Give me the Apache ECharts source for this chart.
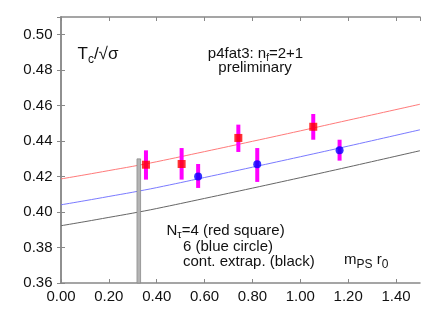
<!DOCTYPE html>
<html><head><meta charset="utf-8">
<script src="https://cdn.jsdelivr.net/npm/echarts@6/dist/echarts.min.js"></script>
<style>html,body{margin:0;padding:0;background:#fff}#c{width:447px;height:313px}</style>
</head><body><div id="c"></div>
<script>
// ---- data ----
const curveX = [0, 0.1, 0.2, 0.3, 0.4, 0.6, 0.8, 1.0, 1.2, 1.5];
const redCurve = [0.4187, 0.4210, 0.4234, 0.4258, 0.4284, 0.4341, 0.4399, 0.4458, 0.4518, 0.4608];
const blueCurve = [0.4041, 0.4064, 0.4088, 0.4112, 0.4138, 0.4195, 0.4253, 0.4312, 0.4372, 0.4464];
const blackCurve = [0.3923, 0.3946, 0.3970, 0.3994, 0.4020, 0.4077, 0.4135, 0.4194, 0.4254, 0.4346];

const redX = [0.355, 0.504, 0.741, 1.054];
const redY = [0.4267, 0.4271, 0.4418, 0.4481];
const redLo = [0.4183, 0.4183, 0.4339, 0.4408];
const redHi = [0.4348, 0.4361, 0.4493, 0.4553];

const blueX = [0.573, 0.820, 1.164];
const blueY = [0.4201, 0.4269, 0.4348];
const blueLo = [0.4136, 0.4170, 0.4290];
const blueHi = [0.4271, 0.4361, 0.4408];

const physX = [0.325];
const physTop = [0.43];

const xTicks = { min: 0, max: 1.5, interval: 0.2 };
const yTicks = { min: 0.36, max: 0.51, interval: 0.02 };

// ---- chart ----
const FONT = '"Liberation Sans", Arial, Helvetica, sans-serif';
const chart = echarts.init(document.getElementById('c'), null, { renderer: 'canvas' });
const zip = (xs, ys) => xs.map((x, i) => [x, ys[i]]);
const axisCol = '#888';

const ctx = document.createElement('canvas').getContext('2d');
function w(t, s) { ctx.font = s + 'px ' + FONT; return ctx.measureText(t).width; }
// pieces: [text, size, dy]
function pieces(list, x0, y, align) {
  let total = list.reduce((a, p) => a + w(p[0], p[1]), 0);
  let x = align === 'center' ? x0 - total / 2 : x0;
  const out = [];
  list.forEach(p => {
    out.push({ type: 'text', x: x, y: y + (p[2] || 0), silent: true,
      style: { text: p[0], font: p[1] + 'px ' + FONT, fill: '#111', textAlign: 'left', textVerticalAlign: 'middle' } });
    x += w(p[0], p[1]);
  });
  return out;
}

const errRender = (params, api) => {
  const p1 = api.coord([api.value(0), api.value(1)]);
  const p2 = api.coord([api.value(0), api.value(2)]);
  return { type: 'rect', shape: { x: p1[0] - 2, y: p2[1], width: 4, height: p1[1] - p2[1] },
    style: { fill: '#ff00ff' } };
};

const gfx = [].concat(
  pieces([['T', 17], ['c', 12, 6], ['/\u221A\u03C3', 17]], 77.5, 54),
  pieces([['p4fat3: n', 15], ['f', 10, 4], ['=2+1', 15]], 255.5, 54, 'center'),
  pieces([['preliminary', 15]], 255, 68, 'center'),
  pieces([['N', 15], ['\u03C4', 11, 4], ['=4 (red square)', 15]], 166.5, 231),
  pieces([['6 (blue circle)', 15]], 183, 247),
  pieces([['cont. extrap. (black)', 15]], 183, 262),
  pieces([['m', 15], ['PS', 12, 5], [' r', 15], ['0', 12, 5]], 344, 259.5)
);

const axisCommon = {
  type: 'value', splitLine: { show: false },
  axisLine: { show: true, lineStyle: { color: axisCol, width: 1.5 } },
  axisTick: { show: true, inside: true, length: 4, lineStyle: { color: axisCol, width: 1 } }
};

chart.setOption({
  animation: false,
  backgroundColor: '#fff',
  grid: { left: 61, right: 27, top: 17, bottom: 30, containLabel: false },
  xAxis: [
    Object.assign({}, axisCommon, { position: 'bottom', min: xTicks.min, max: xTicks.max, interval: xTicks.interval,
      axisLabel: { show: true, margin: 6, fontSize: 15, fontFamily: FONT, color: '#111', showMaxLabel: false,
        formatter: v => v.toFixed(2) } }),
    Object.assign({}, axisCommon, { position: 'top', min: xTicks.min, max: xTicks.max, interval: xTicks.interval,
      axisLabel: { show: false } })
  ],
  yAxis: [
    Object.assign({}, axisCommon, { position: 'left', min: yTicks.min, max: yTicks.max, interval: yTicks.interval,
      axisLabel: { show: true, margin: 8.5, fontSize: 15, fontFamily: FONT, color: '#111', showMaxLabel: false,
        formatter: v => v.toFixed(2) } }),
    Object.assign({}, axisCommon, { position: 'right', min: yTicks.min, max: yTicks.max, interval: yTicks.interval,
      axisLabel: { show: false } })
  ],
  graphic: gfx,
  series: [
    { type: 'line', data: zip(curveX, redCurve), smooth: 0.4, showSymbol: false, lineStyle: { color: '#ff7a7a', width: 1 }, z: 2 },
    { type: 'line', data: zip(curveX, blueCurve), smooth: 0.4, showSymbol: false, lineStyle: { color: '#7a7aff', width: 1 }, z: 2 },
    { type: 'line', data: zip(curveX, blackCurve), smooth: 0.4, showSymbol: false, lineStyle: { color: '#666', width: 1 }, z: 2 },
    { type: 'custom', data: physX.map((x, i) => [x, yTicks.min, physTop[i]]), z: 3,
      renderItem: (params, api) => {
        const p1 = api.coord([api.value(0), api.value(1)]);
        const p2 = api.coord([api.value(0), api.value(2)]);
        return { type: 'rect', shape: { x: p1[0] - 1.8, y: p2[1], width: 3.6, height: p1[1] - p2[1] },
          style: { fill: '#b4b4b4', stroke: '#8c8c8c', lineWidth: 0.8 } };
      } },
    { type: 'custom', data: redX.map((x, i) => [x, redLo[i], redHi[i]]), renderItem: errRender, z: 4 },
    { type: 'custom', data: blueX.map((x, i) => [x, blueLo[i], blueHi[i]]), renderItem: errRender, z: 4 },
    { type: 'scatter', data: zip(redX, redY), symbol: 'rect', symbolSize: 8, itemStyle: { color: '#ff0000' }, z: 5 },
    { type: 'scatter', data: zip(blueX, blueY), symbol: 'circle', symbolSize: 8, itemStyle: { color: '#0000ff' }, z: 5 }
  ]
});
</script>
</body></html>
